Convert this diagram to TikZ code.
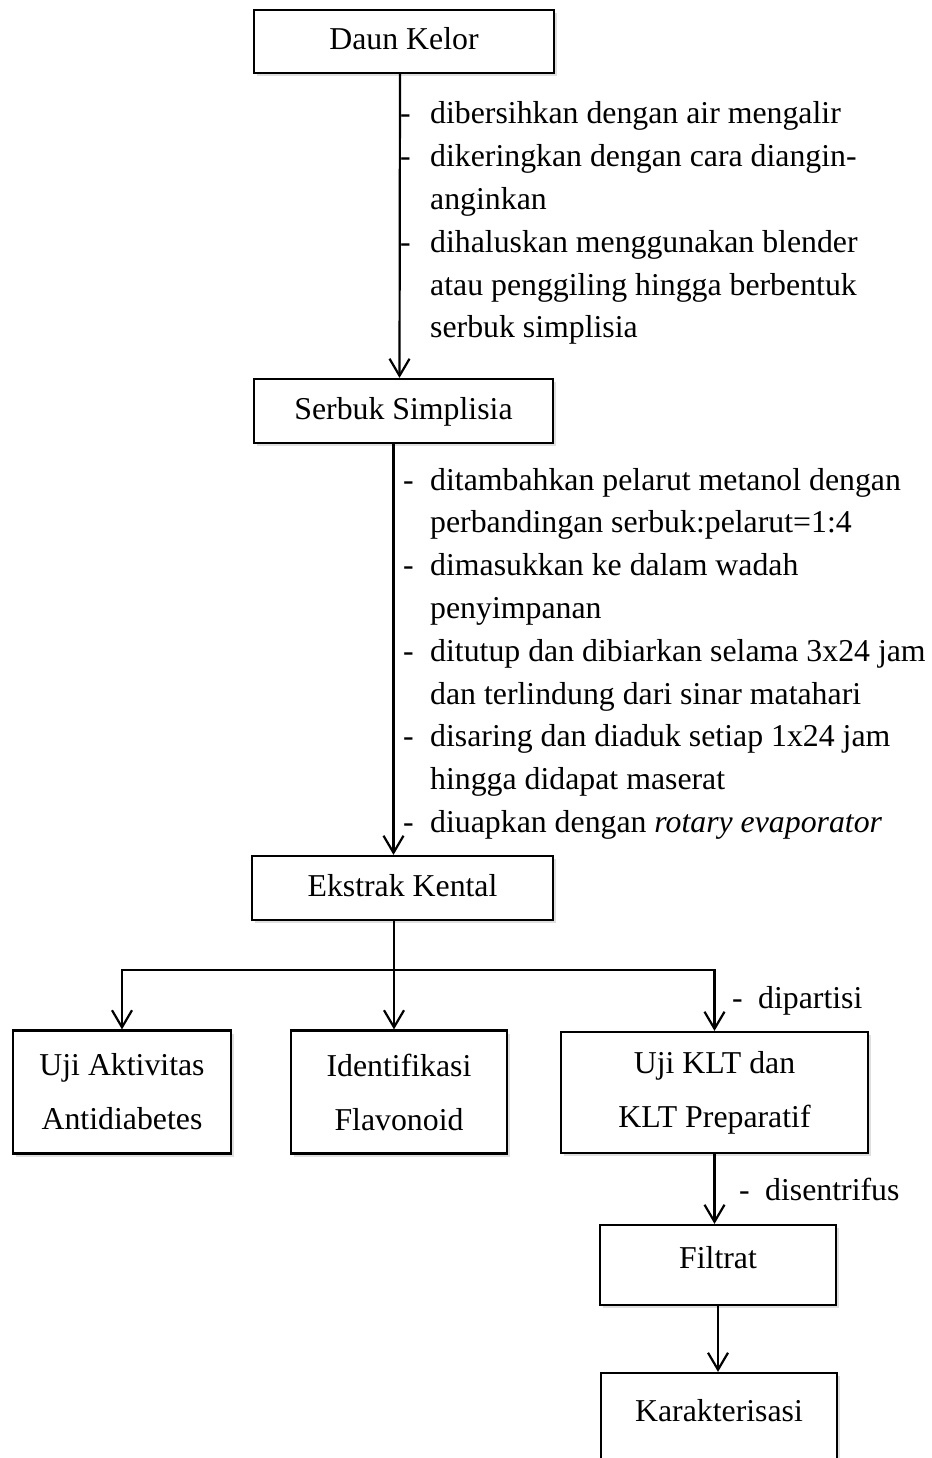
\documentclass[tikz,border=0pt]{standalone}
\usepackage{fontspec}
\setmainfont{Liberation Serif}
\usetikzlibrary{arrows.meta,shadows}

\tikzset{
  kotak/.style={draw, line width=2.2pt, fill=white, inner sep=0pt, align=center,
    font=\fontsize{31.8}{54}\selectfont,
    drop shadow={shadow xshift=2.5pt, shadow yshift=-3pt, opacity=.25}},
  kotaksatu/.style={kotak, text height=21pt, text depth=4pt},
  garis/.style={line width=2.2pt},
  panah/.style={garis, -{Straight Barb[length=17pt,width=20pt]}},
  ket/.style={inner sep=0pt, anchor=base west, font=\fontsize{31.8}{42.8}\selectfont}
}

\begin{document}
\begin{tikzpicture}[x=1pt, y=-1pt]
		%%%%% START %%%%%
		\useasboundingbox (0,0) rectangle (931,1458);
		\clip (0,0) rectangle (931,1458);
		
		\node[kotaksatu, minimum width=300pt, minimum height=63pt] (daun) at (404,41.5) {Daun Kelor};
		\node[kotaksatu, minimum width=299pt, minimum height=64pt] (serbuk) at (403.5,411) {Serbuk Simplisia};
		\node[kotaksatu, minimum width=301pt, minimum height=64pt] (ekstrak) at (402.5,888) {Ekstrak Kental};
		
		\node[kotak, minimum width=218pt, minimum height=123pt] (uji) at (122,1092) {Uji Aktivitas\\Antidiabetes};
		\node[kotak, minimum width=216pt, minimum height=123pt] (ident) at (399,1092) {Identifikasi\\Flavonoid};
		\node[kotak, minimum width=307pt, minimum height=121pt] (klt) at (714.5,1092.5) {Uji KLT dan\\KLT Preparatif};
		
		\node[kotaksatu, text depth=15pt, minimum width=236pt, minimum height=80pt] (filtrat) at (718,1265) {Filtrat};
		\node[kotaksatu, text depth=45pt, minimum width=236pt, minimum height=120pt] (karak) at (719,1433) {Karakterisasi};
		
		\draw[panah] ([xshift=-4pt]daun.south) -- ([xshift=-4pt]serbuk.north);
		\draw[panah] ([xshift=-10pt]serbuk.south) -- ([xshift=-10pt]serbuk.south |- ekstrak.north);
		
		\coordinate (cabang) at (394,970);
		\draw[garis] (cabang |- ekstrak.south) -- (cabang);
		\draw[panah] (cabang) -| (uji.north);
		\draw[panah] (cabang) -- (cabang |- ident.north);
		\draw[panah] (cabang) -| (klt.north);
		
		\draw[panah] (klt.south) -- (klt.south |- filtrat.north);
		\draw[panah] (filtrat.south) -- (filtrat.south |- karak.north);
		
		\node[ket] (ket1) at (400,124) {\begin{tabular}[t]{@{}p{30pt}@{}l@{}}
			- & dibersihkan dengan air mengalir\\
			- & dikeringkan dengan cara diangin-\\
			  & anginkan\\
			- & dihaluskan menggunakan blender\\
			  & atau penggiling hingga berbentuk\\
			  & serbuk simplisia
		\end{tabular}};
		
		\node[ket] (ket2) at (403,490) {\begin{tabular}[t]{@{}p{27pt}@{}l@{}}
			- & ditambahkan pelarut metanol dengan\\
			  & perbandingan serbuk:pelarut=1:4\\
			- & dimasukkan ke dalam wadah\\
			  & penyimpanan\\
			- & ditutup dan dibiarkan selama 3x24 jam\\
			  & dan terlindung dari sinar matahari\\
			- & disaring dan diaduk setiap 1x24 jam\\
			  & hingga didapat maserat\\
			- & diuapkan dengan \textit{rotary evaporator}
		\end{tabular}};
		
		\node[ket] (partisi) at (732,1008) {\makebox[26pt][l]{-}dipartisi};
		\node[ket] (sentrifus) at (739,1200) {\makebox[26pt][l]{-}disentrifus};
		
		%%%%% END %%%%%
\end{tikzpicture}
\end{document}
